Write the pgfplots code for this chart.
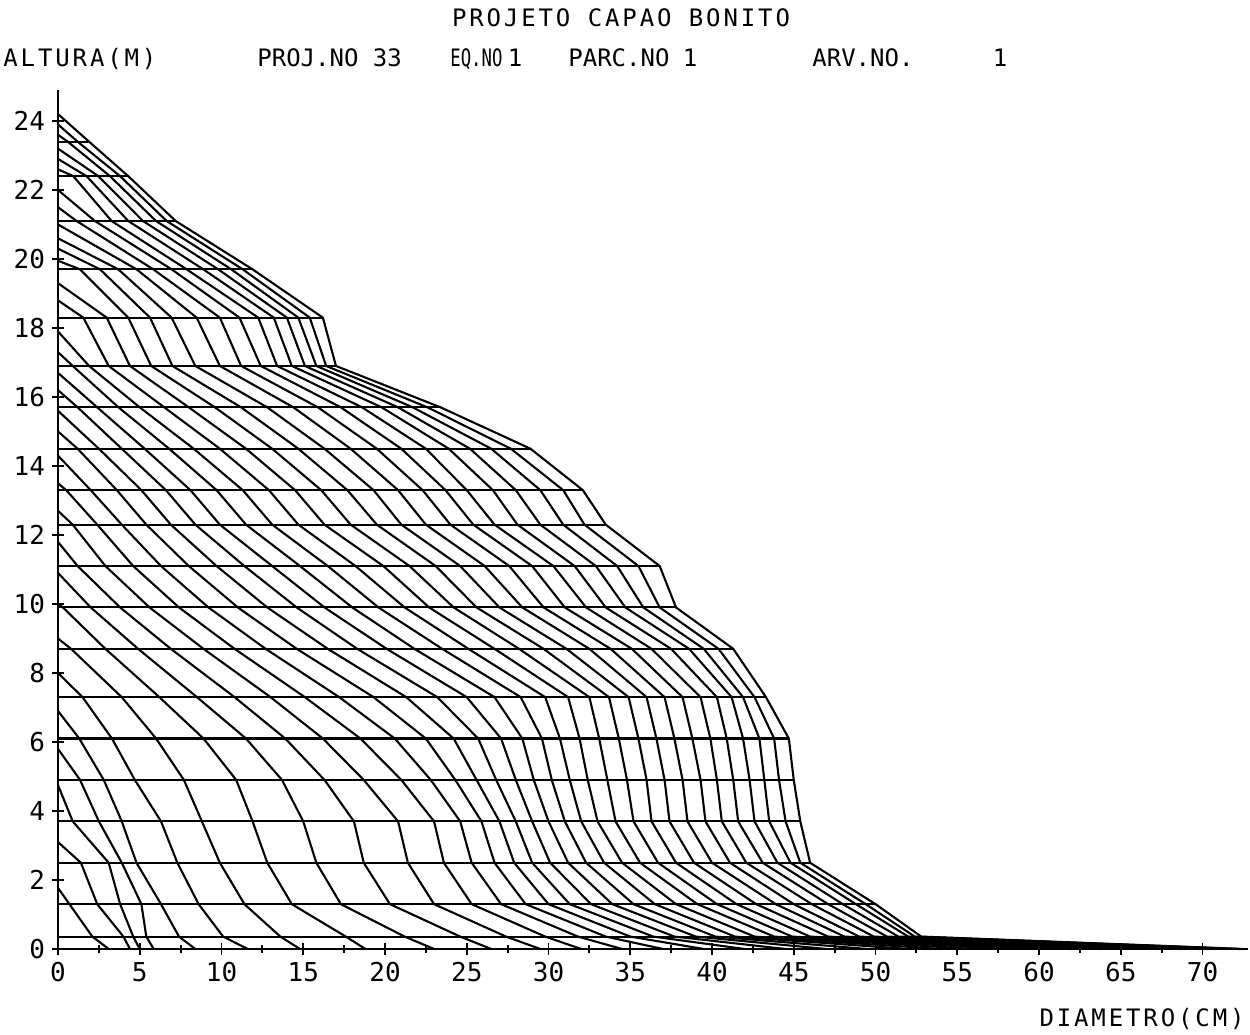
\documentclass[border=0pt]{standalone}
\usepackage{fontspec}
\usepackage{graphicx}
\usepackage{pgfplots}
\usepackage{pgfplotstable}
\pgfplotsset{compat=1.18}
\newfontfamily\plotfont{DejaVu Sans Mono}[LetterSpace=12]
\newfontfamily\plainfont{DejaVu Sans Mono}
\newfontfamily\tickfont{DejaVu Sans Mono}
\pgfplotstableread{
h d
23.4 1.9
22.4 4.3
21.1 7.2
19.7 11.9
18.3 16.2
16.9 17.0
15.7 23.4
14.5 28.9
13.3 32.1
12.3 33.5
11.1 36.8
9.9 37.8
8.7 41.3
7.3 43.3
6.1 44.7
4.9 45.0
3.7 45.4
2.5 46.0
1.3 50.0
0.36 52.8
}\sections
\tikzset{ring/.style={black, line width=1.05pt, line join=round}}
\begin{document}
\begin{tikzpicture}
\useasboundingbox (0,0) rectangle (625pt,517.5pt);
\begin{axis}[
  at={(29pt,43pt)}, anchor=south west,
  x=8.175pt, y=17.25pt,
  xmin=0, xmax=72.8, ymin=0, ymax=24.9,
  axis x line=bottom, axis y line=left,
  axis line style={-, line width=1.05pt},
  xtick={0,5,...,70}, ytick={0,2,...,24},
  minor x tick num=1,
  tick align=center,
  major tick length=6pt, minor tick length=4pt,
  tick style={black, line width=0.9pt},
  /pgf/number format/assume math mode=true,
  tick label style={font=\tickfont\fontsize{13}{13}\selectfont},
  clip=false,
]
\addplot[xcomb, ring] table[x=d, y=h] {\sections};
% ring profiles (outer to inner)
\addplot[ring] coordinates {(0,24.2) (1.9,23.4) (4.3,22.4) (7.2,21.1) (11.9,19.7) (16.2,18.3) (17.0,16.9) (23.4,15.7) (28.9,14.5) (32.1,13.3) (33.5,12.3) (36.8,11.1) (37.8,9.9) (41.3,8.7) (43.3,7.3) (44.7,6.1) (45.0,4.9) (45.4,3.7) (46.0,2.5) (50.0,1.3) (52.8,0.36) (72.5,0)};
\addplot[ring] coordinates {(0,23.9) (1.2,23.4) (3.8,22.4) (6.65,21.1) (11.3,19.7) (15.4,18.3) (16.4,16.9) (22.6,15.7) (27.7,14.5) (30.9,13.3) (32.2,12.3) (35.5,11.1) (36.8,9.9) (40.4,8.7) (42.6,7.3) (43.8,6.1) (44.1,4.9) (44.5,3.7) (45.4,2.5) (49.4,1.3) (52.4,0.36) (72.3,0)};
\addplot[ring] coordinates {(0,23.6) (0.6,23.4) (3.18,22.4) (6.0,21.1) (10.6,19.7) (14.7,18.3) (15.8,16.9) (21.7,15.7) (26.5,14.5) (29.5,13.3) (30.9,12.3) (34.2,11.1) (35.8,9.9) (39.5,8.7) (41.9,7.3) (42.9,6.1) (43.2,4.9) (43.5,3.7) (44.8,2.5) (48.8,1.3) (52.0,0.36) (71.4,0)};
\addplot[ring] coordinates {(0,23.2) (2.47,22.4) (5.2,21.1) (9.8,19.7) (14.0,18.3) (15.1,16.9) (20.8,15.7) (25.2,14.5) (28.0,13.3) (29.5,12.3) (32.9,11.1) (34.7,9.9) (38.6,8.7) (41.2,7.3) (41.9,6.1) (42.3,4.9) (42.6,3.7) (44.0,2.5) (48.0,1.3) (51.4,0.36) (70.2,0)};
\addplot[ring] coordinates {(0,22.9) (1.75,22.4) (4.3,21.1) (8.89,19.7) (13.2,18.3) (14.3,16.9) (19.8,15.7) (23.9,14.5) (26.6,13.3) (28.1,12.3) (31.6,11.1) (33.5,9.9) (37.5,8.7) (40.3,7.3) (40.9,6.1) (41.3,4.9) (41.6,3.7) (43.1,2.5) (47.1,1.3) (50.7,0.36) (68.8,0)};
\addplot[ring] coordinates {(0,22.6) (0.94,22.4) (3.28,21.1) (7.87,19.7) (12.25,18.3) (13.4,16.9) (18.6,15.7) (22.5,14.5) (25.0,13.3) (26.7,12.3) (30.3,11.1) (32.3,9.9) (36.3,8.7) (39.3,7.3) (39.9,6.1) (40.3,4.9) (40.6,3.7) (42.1,2.5) (46.1,1.3) (49.9,0.36) (67.2,0)};
\addplot[ring] coordinates {(0,22.0) (2.26,21.1) (6.95,19.7) (11.1,18.3) (12.4,16.9) (17.3,15.7) (21.0,14.5) (23.7,13.3) (25.4,12.3) (29.0,11.1) (31.0,9.9) (35.1,8.7) (38.2,7.3) (38.8,6.1) (39.3,4.9) (39.6,3.7) (41.1,2.5) (45.0,1.3) (49.0,0.36) (65.6,0)};
\addplot[ring] coordinates {(0,21.5) (1.14,21.1) (5.83,19.7) (9.9,18.3) (11.2,16.9) (15.9,15.7) (19.5,14.5) (22.3,13.3) (24.0,12.3) (27.6,11.1) (29.7,9.9) (33.8,8.7) (37.1,7.3) (37.7,6.1) (38.2,4.9) (38.5,3.7) (40.0,2.5) (43.9,1.3) (48.1,0.36) (63.8,0)};
\addplot[ring] coordinates {(0,21.0) (4.81,19.7) (8.48,18.3) (9.9,16.9) (14.4,15.7) (17.9,14.5) (20.8,13.3) (22.5,12.3) (26.1,11.1) (28.4,9.9) (32.5,8.7) (36.0,7.3) (36.6,6.1) (37.1,4.9) (37.4,3.7) (38.9,2.5) (42.7,1.3) (47.1,0.36) (62.0,0)};
\addplot[ring] coordinates {(0,20.6) (3.69,19.7) (6.95,18.3) (8.4,16.9) (12.8,15.7) (16.3,14.5) (19.3,13.3) (21.0,12.3) (24.6,11.1) (27.0,9.9) (31.1,8.7) (34.9,7.3) (35.5,6.1) (36.0,4.9) (36.3,3.7) (37.8,2.5) (41.5,1.3) (46.0,0.36) (60.0,0)};
\addplot[ring] coordinates {(0,20.3) (2.57,19.7) (5.63,18.3) (7.0,16.9) (11.2,15.7) (14.7,14.5) (17.7,13.3) (19.5,12.3) (23.1,11.1) (25.6,9.9) (29.7,8.7) (33.7,7.3) (34.3,6.1) (34.8,4.9) (35.2,3.7) (36.7,2.5) (40.3,1.3) (44.9,0.36) (58.0,0)};
\addplot[ring] coordinates {(0,19.95) (1.35,19.7) (4.3,18.3) (5.7,16.9) (9.6,15.7) (13.1,14.5) (16.1,13.3) (17.9,12.3) (21.5,11.1) (24.2,9.9) (28.2,8.7) (32.5,7.3) (33.1,6.1) (33.6,4.9) (34.1,3.7) (35.6,2.5) (39.1,1.3) (43.8,0.36) (56.0,0)};
\addplot[ring] coordinates {(0,19.3) (2.98,18.3) (4.4,16.9) (8.0,15.7) (11.5,14.5) (14.5,13.3) (16.3,12.3) (19.9,11.1) (22.7,9.9) (26.7,8.7) (31.2,7.3) (31.9,6.1) (32.4,4.9) (33.0,3.7) (34.5,2.5) (37.8,1.3) (42.6,0.36) (54.0,0)};
\addplot[ring] coordinates {(0,18.8) (1.55,18.3) (3.1,16.9) (6.5,15.7) (9.9,14.5) (12.9,13.3) (14.7,12.3) (18.2,11.1) (21.2,9.9) (25.1,8.7) (29.8,7.3) (30.7,6.1) (31.3,4.9) (32.0,3.7) (33.4,2.5) (36.5,1.3) (41.4,0.36) (52.0,0)};
\addplot[ring] coordinates {(0,17.9) (1.9,16.9) (5.0,15.7) (8.3,14.5) (11.3,13.3) (13.1,12.3) (16.5,11.1) (19.6,9.9) (23.5,8.7) (28.3,7.3) (29.6,6.1) (30.2,4.9) (31.0,3.7) (32.3,2.5) (35.2,1.3) (40.2,0.36) (49.5,0)};
\addplot[ring] coordinates {(0,17.3) (0.9,16.9) (3.7,15.7) (6.8,14.5) (9.7,13.3) (11.5,12.3) (14.8,11.1) (18.0,9.9) (21.8,8.7) (26.7,7.3) (28.4,6.1) (29.1,4.9) (30.0,3.7) (31.2,2.5) (33.9,1.3) (39.0,0.36) (47.0,0)};
\addplot[ring] coordinates {(0,16.7) (2.4,15.7) (5.3,14.5) (8.1,13.3) (9.9,12.3) (13.1,11.1) (16.3,9.9) (20.1,8.7) (25.0,7.3) (27.1,6.1) (28.0,4.9) (29.0,3.7) (30.1,2.5) (32.6,1.3) (37.7,0.36) (44.5,0)};
\addplot[ring] coordinates {(0,16.2) (1.2,15.7) (3.9,14.5) (6.6,13.3) (8.4,12.3) (11.4,11.1) (14.6,9.9) (18.3,8.7) (23.2,7.3) (25.7,6.1) (26.8,4.9) (28.0,3.7) (29.0,2.5) (31.3,1.3) (36.4,0.36) (42.0,0)};
\addplot[ring] coordinates {(0,15.6) (2.5,14.5) (5.1,13.3) (6.9,12.3) (9.7,11.1) (12.8,9.9) (16.5,8.7) (21.3,7.3) (24.2,6.1) (25.6,4.9) (27.0,3.7) (27.9,2.5) (30.0,1.3) (35.0,0.36) (39.5,0)};
\addplot[ring] coordinates {(0,15.0) (1.2,14.5) (3.6,13.3) (5.4,12.3) (8.0,11.1) (11.0,9.9) (14.6,8.7) (19.3,7.3) (22.5,6.1) (24.3,4.9) (25.9,3.7) (26.7,2.5) (28.6,1.3) (33.5,0.36) (37.0,0)};
\addplot[ring] coordinates {(0,14.3) (2.0,13.3) (3.9,12.3) (6.3,11.1) (9.2,9.9) (12.7,8.7) (17.2,7.3) (20.6,6.1) (22.8,4.9) (24.6,3.7) (25.3,2.5) (27.1,1.3) (31.8,0.36) (34.5,0)};
\addplot[ring] coordinates {(0,13.5) (0.5,13.3) (2.4,12.3) (4.6,11.1) (7.4,9.9) (10.8,8.7) (15.1,7.3) (18.5,6.1) (21.0,4.9) (23.0,3.7) (23.6,2.5) (25.3,1.3) (29.8,0.36) (32.0,0)};
\addplot[ring] coordinates {(0,12.7) (0.9,12.3) (2.9,11.1) (5.6,9.9) (8.9,8.7) (13.0,7.3) (16.2,6.1) (18.7,4.9) (20.8,3.7) (21.4,2.5) (23.0,1.3) (27.4,0.36) (29.5,0)};
\addplot[ring] coordinates {(0,11.8) (1.2,11.1) (3.8,9.9) (6.9,8.7) (10.8,7.3) (13.9,6.1) (16.3,4.9) (18.1,3.7) (18.7,2.5) (20.3,1.3) (24.6,0.36) (26.5,0)};
\addplot[ring] coordinates {(0,10.9) (2.0,9.9) (4.9,8.7) (8.5,7.3) (11.5,6.1) (13.7,4.9) (15.0,3.7) (15.8,2.5) (17.3,1.3) (21.2,0.36) (23.0,0)};
\addplot[ring] coordinates {(0,10.0) (0.3,9.9) (2.9,8.7) (6.2,7.3) (8.9,6.1) (10.9,4.9) (11.9,3.7) (12.8,2.5) (14.3,1.3) (17.6,0.36) (18.8,0)};
\addplot[ring] coordinates {(0,9.0) (0.8,8.7) (3.9,7.3) (6.0,6.1) (7.7,4.9) (8.8,3.7) (9.9,2.5) (11.4,1.3) (13.6,0.36) (14.8,0)};
\addplot[ring] coordinates {(0,8.0) (1.5,7.3) (3.3,6.1) (4.7,4.9) (6.3,3.7) (7.3,2.5) (8.6,1.3) (10.1,0.36) (11.6,0)};
\addplot[ring] coordinates {(0,6.9) (1.3,6.1) (2.8,4.9) (3.9,3.7) (4.8,2.5) (6.3,1.3) (7.4,0.36) (8.4,0)};
\addplot[ring] coordinates {(0,5.8) (1.35,4.9) (2.5,3.7) (3.9,2.5) (5.1,1.3) (5.4,0.36) (5.85,0)};
\addplot[ring] coordinates {(0,4.75) (0.9,3.7) (3.1,2.5) (3.8,1.3) (4.6,0.36) (5.0,0)};
\addplot[ring] coordinates {(0,3.1) (1.4,2.5) (2.4,1.3) (4.0,0.36) (4.4,0)};
\addplot[ring] coordinates {(0,1.77) (0.7,1.3) (2.1,0.36) (3.1,0)};
\end{axis}
\begin{scope}[every node/.style={inner sep=0pt, font=\plotfont\fontsize{12}{12}\selectfont}]
\node[anchor=base] at (310.5pt,504pt) {PROJETO CAPAO BONITO};
\node[anchor=base west] at (1.5pt,484pt) {ALTURA(M)};
\node[anchor=base west] at (128.5pt,484pt) {\plainfont PROJ.NO 33};
\node[anchor=base west] at (225pt,484pt) {\plainfont\scalebox{0.72}[1]{EQ.NO}};
\node[anchor=base] at (257.5pt,484pt) {1};
\node[anchor=base west] at (284pt,484pt) {\plainfont PARC.NO};
\node[anchor=base] at (345pt,484pt) {1};
\node[anchor=base west] at (406pt,484pt) {\plainfont ARV.NO.};
\node[anchor=base] at (500pt,484pt) {1};
\node[anchor=base east] at (622.5pt,4pt) {DIAMETRO(CM)};
\end{scope}
\end{tikzpicture}
\end{document}
